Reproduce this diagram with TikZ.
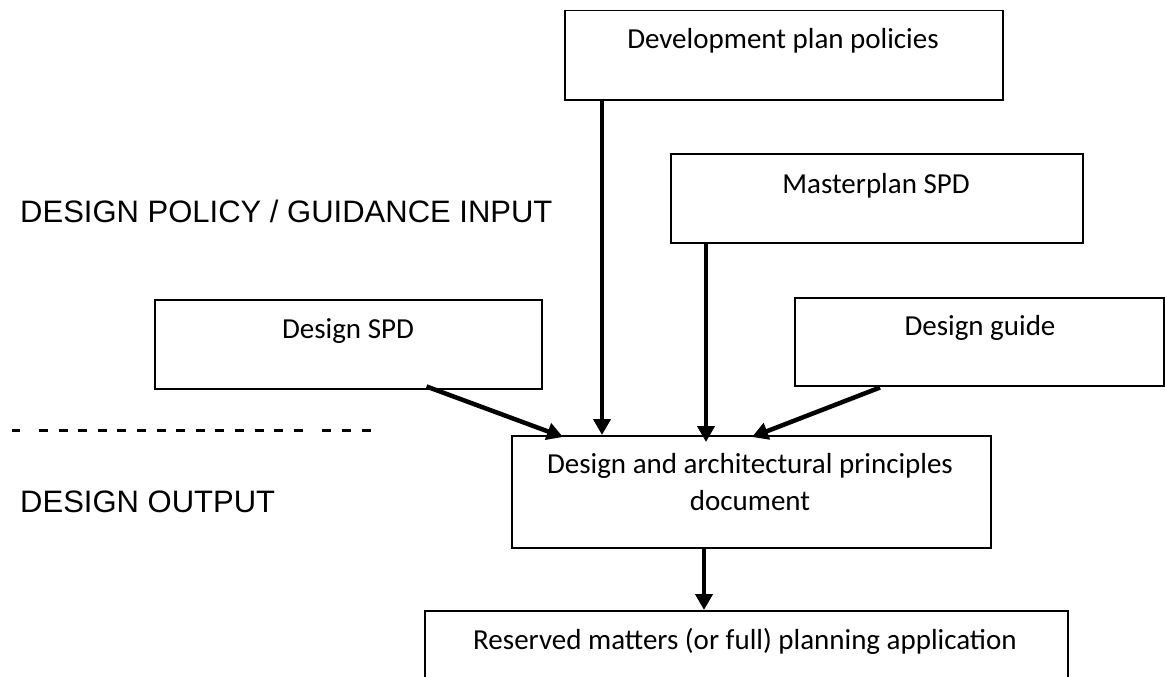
\documentclass[tikz,border=0pt]{standalone}
\usepackage{fontspec}
\setmainfont{Carlito}
\newfontfamily\arialf{Liberation Sans}
\usetikzlibrary{arrows.meta,calc}
\begin{document}
\begin{tikzpicture}[x=1pt,y=-1pt,
 box/.style={draw, line width=1.5pt, rectangle, inner sep=0pt, anchor=north west},
 txt/.style={font=\fontsize{29}{35}\selectfont, anchor=base, inner sep=0pt},
 lbl/.style={font=\arialf\fontsize{31}{37}\selectfont, anchor=base west, inner sep=0pt},
 arr/.style={line width=4.5pt, -{Triangle[length=16pt,width=17pt]}},
 dashl/.style={line width=3pt, dash pattern=on 9pt off 10.6pt},
 dashm/.style={line width=3pt, dash pattern=on 9pt off 11pt}]
\useasboundingbox (0,0) rectangle (1165,677);
\clip (0,0) rectangle (1165,677);
% boxes
\node[box, minimum width=438pt, minimum height=89pt] (dev) at (564,10) {};
\node[box, minimum width=412pt, minimum height=89pt] (mast) at (670,153) {};
\node[box, minimum width=387pt, minimum height=89pt] (dspd) at (154,299) {};
\node[box, minimum width=369pt, minimum height=88pt] (dguide) at (794,297) {};
\node[box, minimum width=479pt, minimum height=112pt] (cent) at (511,435) {};
\node[box, minimum width=643pt, minimum height=120pt] (res) at (424,610) {};
% texts
\node[txt] (devt) at (783,49) {Development plan policies};
\node[txt] (mastt) at (876,193) {Masterplan SPD};
\node[txt] (dspdt) at (348,338) {Design SPD};
\node[txt] (dguidet) at (980,335) {Design guide};
\node[txt] (centa) at (750,473) {Design and architectural principles};
\node[txt] (centb) at (750,510) {document};
\node[txt] (rest) at (745,649) {Reserved matters (or full) planning application};
% labels
\node[lbl] (lin) at (20,222) {DESIGN POLICY / GUIDANCE INPUT};
\node[lbl] (lout) at (20,512) {DESIGN OUTPUT};
% dashed separator
\draw[line width=3pt] (12,430) -- (20,430);
\draw[dashl] (39,430) -- (303,430);
\draw[dashm] (322,430) -- (371,430);
% arrows
\draw[arr] (dev.south -| 602,0) -- (cent.north -| 602,0);
\draw[arr] (mast.south -| 706,0) -- ($(cent.north -| 706,0)+(0,7)$);
\draw[arr] ($(dspd.south east)+(-116,-3)$) -- ($(cent.north west)+(52,2)$);
\draw[arr] ($(dguide.south west)+(86,1)$) -- ($(cent.north west)+(241,2)$);
\draw[arr] (cent.south -| 704,0) -- (res.north -| 704,0);
\end{tikzpicture}
\end{document}
